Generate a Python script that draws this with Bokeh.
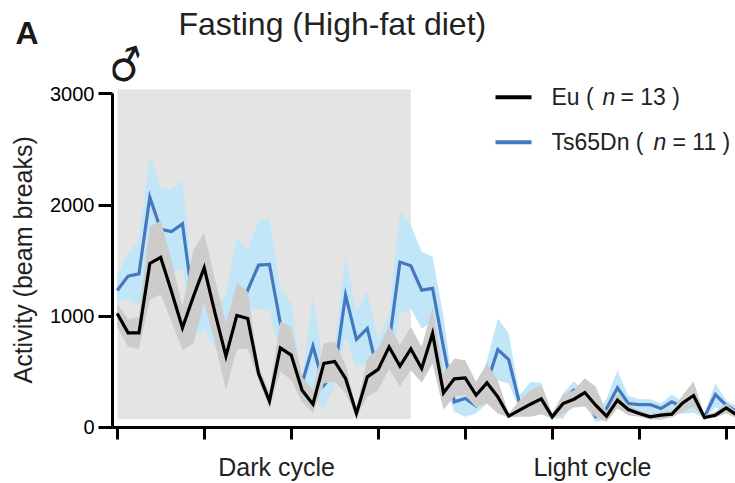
from bokeh.plotting import figure
from bokeh.models import Label, FixedTicker, ColumnDataSource, Title
from bokeh.embed import file_html
from bokeh.resources import INLINE

eu = [1024,849,849,1474,1528,1219,895,1174,1435,1024,640,1006,979,483,235,714,649,333,207,574,592,438,123,453,520,723,550,705,528,844,309,435,444,288,399,273,99,153,207,255,93,213,252,312,198,99,243,159,123,93,108,117,219,285,87,108,174,108]
eu_up = [1114,969,994,1805,1859,1505,1084,1595,1751,1324,934,1300,1219,544,320,949,904,454,333,754,769,559,168,619,709,919,739,904,724,1084,484,618,603,408,573,423,123,243,333,378,123,297,333,441,363,138,303,198,153,117,138,153,288,414,108,138,213,138]
eu_lo = [904,724,703,1144,1195,949,694,754,1120,754,333,703,703,423,170,499,424,229,123,394,409,303,93,273,333,529,363,514,400,574,159,273,288,177,213,123,87,93,93,117,78,123,177,183,93,48,168,108,93,69,69,87,138,183,69,87,123,78]
ts = [1230,1360,1380,2070,1780,1760,1830,1100,1300,1100,800,1000,1234,1459,1465,937,700,396,730,378,500,1189,790,889,480,755,1486,1453,1234,1250,720,228,258,192,393,699,609,213,300,260,95,250,333,273,95,168,354,213,204,204,168,228,180,270,93,294,198,138]
ts_up = [1369,1564,1685,2450,2144,2144,2225,1280,1150,1050,1189,1715,1595,1850,1885,1249,1114,423,1189,550,725,1550,1039,1220,784,1024,1940,1820,1580,1535,1000,270,290,300,600,979,844,288,408,399,123,303,414,320,108,258,513,282,252,252,213,294,228,300,123,393,243,183]
ts_lo = [1117,1153,1099,1324,1355,1385,1430,814,874,724,634,664,1055,1069,1045,650,550,214,273,159,378,814,544,574,363,514,1024,1069,889,949,400,138,93,123,213,423,393,153,108,123,78,78,213,200,48,63,198,123,110,110,110,130,120,130,78,180,130,90]
hours = list(range(len(eu)))
y_ticks = [0, 1000, 2000, 3000]
x_ticks = [0, 8, 16, 24, 32, 40, 48, 56]
x_label_pos = [14.65, 43.7]
x_labels = ["Dark cycle", "Light cycle"]
dark_start, dark_end, dark_lo, dark_hi = 0.03, 27, 72, 3040

FONT = "Liberation Sans"
BLUE = "#4678C0"
X0, XS, Y0, YS = 116.7, 10.875, 426.7, 0.1111
FRAME_TOP = 44
def dx(px): return (px - X0) / XS
def dy(py): return (Y0 - py) / YS

p = figure(width=735, height=483, output_backend="svg", toolbar_location=None,
           x_range=(dx(112), dx(735)), y_range=(dy(427), dy(FRAME_TOP)),
           min_border_left=112, min_border_right=0, min_border_bottom=56, min_border_top=FRAME_TOP,
           outline_line_color=None, background_fill_color="white")
p.grid.visible = False

p.title.text = "Fasting (High-fat diet)"
p.title.align = "left"
p.title.offset = 66
p.title.standoff = -46
p.title.text_font = FONT
p.title.text_font_size = "32px"
p.title.text_font_style = "normal"
p.title.text_color = "#222222"
p.add_layout(Title(text="A", align="left", offset=-97, standoff=-12, text_font=FONT,
                   text_font_size="32px", text_font_style="bold", text_color="#1a1a1a"), "above")
p.add_layout(Title(text="Activity (beam breaks)", align="left", offset=44, standoff=17, vertical_align="top",
                   text_font=FONT, text_font_size="25px", text_font_style="normal", text_color="#222222"), "left")

p.quad(left=dark_start, right=dark_end, bottom=dark_lo, top=dark_hi, fill_color="#E4E4E4", line_color=None)
src = ColumnDataSource(dict(x=hours, eu=eu, eu_up=eu_up, eu_lo=eu_lo, ts=ts, ts_up=ts_up, ts_lo=ts_lo))
p.varea("x", "ts_lo", "ts_up", source=src, fill_color="#C0E6F8")
p.line("x", "ts", source=src, line_color=BLUE, line_width=3.2, line_join="miter")
p.varea("x", "eu_lo", "eu_up", source=src, fill_color="#CDCCCB")
p.line("x", "eu", source=src, line_color="black", line_width=3.2, line_join="miter")

for ax in (p.xaxis[0], p.yaxis[0]):
    ax.axis_line_width = 3
    ax.axis_line_color = "black"
    ax.major_label_text_font = FONT
yax, xax = p.yaxis[0], p.xaxis[0]
yax.ticker = FixedTicker(ticks=y_ticks)
yax.bounds = (0, 3000)
yax.major_tick_line_width = 3
yax.major_tick_line_color = "black"
yax.major_tick_in = 0
yax.major_tick_out = 14
yax.minor_tick_line_color = None
yax.major_label_standoff = 4
yax.major_label_text_font_size = "20px"
yax.major_label_text_color = "black"

xax.ticker = FixedTicker(ticks=x_label_pos, minor_ticks=x_ticks)
xax.major_label_overrides = dict(zip(x_label_pos, x_labels))
xax.major_tick_line_color = None
xax.major_tick_in = 0
xax.major_tick_out = 12
xax.minor_tick_line_color = "black"
xax.minor_tick_line_width = 3
xax.minor_tick_in = 0
xax.minor_tick_out = 12
xax.major_label_standoff = 13
xax.major_label_text_font_size = "25px"
xax.major_label_text_color = "#222222"

def lab(text, px, py, size, style="normal", font=FONT, color="#222222", baseline="alphabetic", angle=0):
    p.add_layout(Label(x=px, y=py, x_units="canvas", y_units="canvas", text=text, text_font=font,
                       text_font_size=size, text_font_style=style, text_color=color,
                       text_baseline=baseline, angle=angle, angle_units="deg"))

lab("\u2642", 115, 94, "42px", font="DejaVu Sans", color="#1a1a1a", baseline="bottom", angle=18)

p.segment(x0=[dx(495)], x1=[dx(531)], y0=[dy(96.7)], y1=[dy(96.7)], line_color="black", line_width=4)
p.segment(x0=[dx(495)], x1=[dx(531)], y0=[dy(141.7)], y1=[dy(141.7)], line_color=BLUE, line_width=4)
lab("Eu (", 551, 96, "23px")
lab("n", 602, 96, "23px", style="italic")
lab("= 13 )", 620, 96, "23px")
lab("Ts65Dn (", 551, 141, "23px")
lab("n", 653, 141, "23px", style="italic")
lab("= 11 )", 672, 141, "23px")

open("out.html", "w").write(file_html(p, INLINE))
